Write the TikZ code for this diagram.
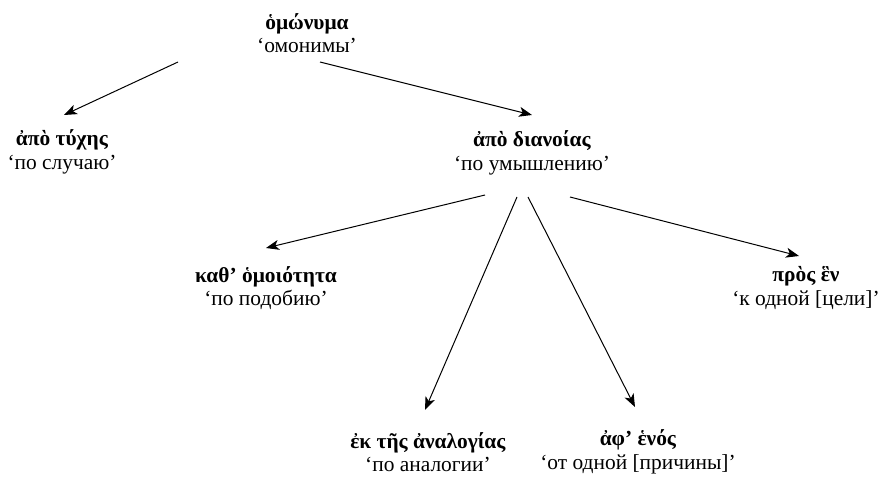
\documentclass[tikz,border=0pt]{standalone}
\usepackage{fontspec}
\setmainfont{Liberation Serif}[Ligatures=Common]
\usetikzlibrary{calc,arrows.meta}
\begin{document}
\begin{tikzpicture}[x=1bp,y=-1bp,
  term/.style={align=center,inner sep=0pt,font=\fontsize{21.5}{23.5}\selectfont},
  arr/.style={-{Stealth[length=13bp,width=10bp,inset=3.5bp]},line width=1bp}]
\useasboundingbox (0,0) rectangle (882,477);
\node[term] (top) at (307,33) {\textbf{ὁμώνυμα}\\‘омонимы’};
\node[term] (tyche) at (62,152) {\textbf{ἀπὸ τύχης}\\‘по случаю’};
\node[term] (dian) at (532,153) {\textbf{ἀπὸ διανοίας}\\‘по умышлению’};
\node[term] (homo) at (266,288) {\textbf{καθ’ ὁμοιότητα}\\‘по подобию’};
\node[term] (pros) at (806,288) {\textbf{πρὸς ἓν}\\‘к одной [цели]’};
\node[term] (anal) at (428,452) {\textbf{ἐκ τῆς ἀναλογίας}\\‘по аналогии’};
\node[term] (aph) at (638,452) {\textbf{ἀφ' ἑνός}\\‘от одной [причины]’};
\draw[arr] ($(top)+(-129,29)$) -- ($(tyche)+(2,-37)$);
\draw[arr] ($(top)+(13,29)$) -- ($(dian)+(0,-38)$);
\draw[arr] ($(dian)+(-47,42)$) -- ($(homo)+(0,-40)$);
\draw[arr] ($(dian)+(-15,44)$) -- ($(anal)+(-3,-42)$);
\draw[arr] ($(dian)+(-4,44)$) -- ($(aph)+(-3,-45)$);
\draw[arr] ($(dian)+(38,44)$) -- ($(pros)+(-7,-32)$);
\end{tikzpicture}
\end{document}
